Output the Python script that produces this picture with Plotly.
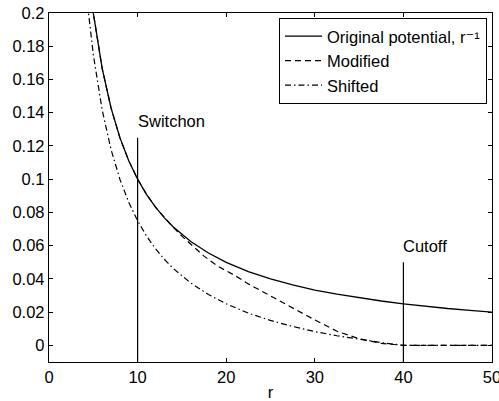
import plotly.graph_objects as go

# ---- data ----
r_orig = [4.9, 5, 6, 7, 8, 9, 10, 11, 12, 13, 14, 16, 18, 20, 22.5, 25, 27.5, 30, 32.5, 35, 37.5, 40, 42.5, 45, 47.5, 50]
v_orig = [0.204, 0.2, 0.1667, 0.1429, 0.125, 0.1111, 0.1, 0.0909, 0.0833, 0.0769, 0.0714, 0.0625, 0.0556, 0.05,
          0.0444, 0.04, 0.0364, 0.0333, 0.0308, 0.0286, 0.0267, 0.025, 0.0235, 0.0222, 0.0211, 0.02]

r_mod = [4.9, 5, 6, 7, 8, 9, 10, 11, 12, 13, 14, 15, 16, 17.5, 19, 20, 21, 22.5, 25, 27.5, 30, 32.5, 35, 37.5, 39, 40, 45, 50]
v_mod = [0.204, 0.2, 0.1667, 0.1429, 0.125, 0.1111, 0.1, 0.0909, 0.0833, 0.0769, 0.0712, 0.0657, 0.0607, 0.0537,
         0.0478, 0.0450, 0.0420, 0.0370, 0.0297, 0.0225, 0.0153, 0.0085, 0.0040, 0.0012, 0.0003, 0.0, 0.0, 0.0]

r_shift = [4.35, 5, 6, 7, 8, 9, 10, 11, 12, 13, 14, 16, 18, 20, 22.5, 25, 27.5, 30, 32.5, 35, 37.5, 40, 45, 50]
v_shift = [0.205, 0.175, 0.1417, 0.1179, 0.1, 0.0861, 0.075, 0.0659, 0.0583, 0.0519, 0.0464, 0.0375, 0.0306, 0.025,
           0.0194, 0.015, 0.0114, 0.0083, 0.0058, 0.0036, 0.0017, 0.0, 0.0, 0.0]

switchon_r = 10
switchon_top = 0.125
cutoff_r = 40
cutoff_top = 0.05
y_min, y_max = -0.01, 0.2
x_min, x_max = 0, 50

x_ticks = [0, 10, 20, 30, 40, 50]
y_ticks = [0, 0.02, 0.04, 0.06, 0.08, 0.1, 0.12, 0.14, 0.16, 0.18, 0.2]
y_tick_text = ["0", "0.02", "0.04", "0.06", "0.08", "0.1", "0.12", "0.14", "0.16", "0.18", "0.2"]

FONT = "Liberation Sans, Arial, Helvetica, DejaVu Sans, sans-serif"
FS = 16.5

fig = go.Figure()
fig.add_trace(go.Scatter(x=r_shift, y=v_shift, mode="lines", name="Shifted",
                         line=dict(color="black", width=1.2, dash="6px,3px,1.5px,3px"), legendrank=3))
fig.add_trace(go.Scatter(x=r_mod, y=v_mod, mode="lines", name="Modified",
                         line=dict(color="black", width=1.2, dash="6px,4px"), legendrank=2))
fig.add_trace(go.Scatter(x=r_orig, y=v_orig, mode="lines", name="Original potential, r⁻¹",
                         line=dict(color="black", width=1.3), legendrank=1))
fig.add_trace(go.Scatter(x=[switchon_r, switchon_r], y=[y_min, switchon_top], mode="lines",
                         line=dict(color="black", width=1.2), showlegend=False))
fig.add_trace(go.Scatter(x=[cutoff_r, cutoff_r], y=[y_min, cutoff_top], mode="lines",
                         line=dict(color="black", width=1.2), showlegend=False))

fig.add_annotation(x=switchon_r, y=0.135, text="Switchon", showarrow=False, xanchor="left", yanchor="middle",
                   xshift=-2, font=dict(size=FS, color="black", family=FONT))
fig.add_annotation(x=cutoff_r, y=0.06, text="Cutoff", showarrow=False, xanchor="left", yanchor="middle",
                   xshift=-2, font=dict(size=FS, color="black", family=FONT))

axis_common = dict(showline=True, linecolor="black", linewidth=1.3, mirror="ticks", ticks="inside",
                   ticklen=4, tickcolor="black", tickwidth=1, showgrid=False, zeroline=False,
                   ticklabeloverflow="allow", automargin=False,
                   tickfont=dict(size=FS, color="black", family=FONT))

fig.update_xaxes(range=[x_min, x_max], tickvals=x_ticks, title=dict(text="r", standoff=4,
                 font=dict(size=FS, color="black", family=FONT)), **axis_common)
fig.update_yaxes(range=[y_min, y_max], tickvals=y_ticks, ticktext=y_tick_text, **axis_common)

fig.update_layout(
    width=499, height=401,
    margin=dict(l=49, r=7, t=13, b=39, autoexpand=False),
    paper_bgcolor="white", plot_bgcolor="white",
    font=dict(family=FONT, size=FS, color="black"),
    legend=dict(x=0.9887, y=0.9857, xanchor="right", yanchor="top", bgcolor="white",
                bordercolor="black", borderwidth=1, font=dict(size=FS, family=FONT, color="black"),
                tracegroupgap=0, itemwidth=37),
    showlegend=True,
)

fig.write_html("out.html")
